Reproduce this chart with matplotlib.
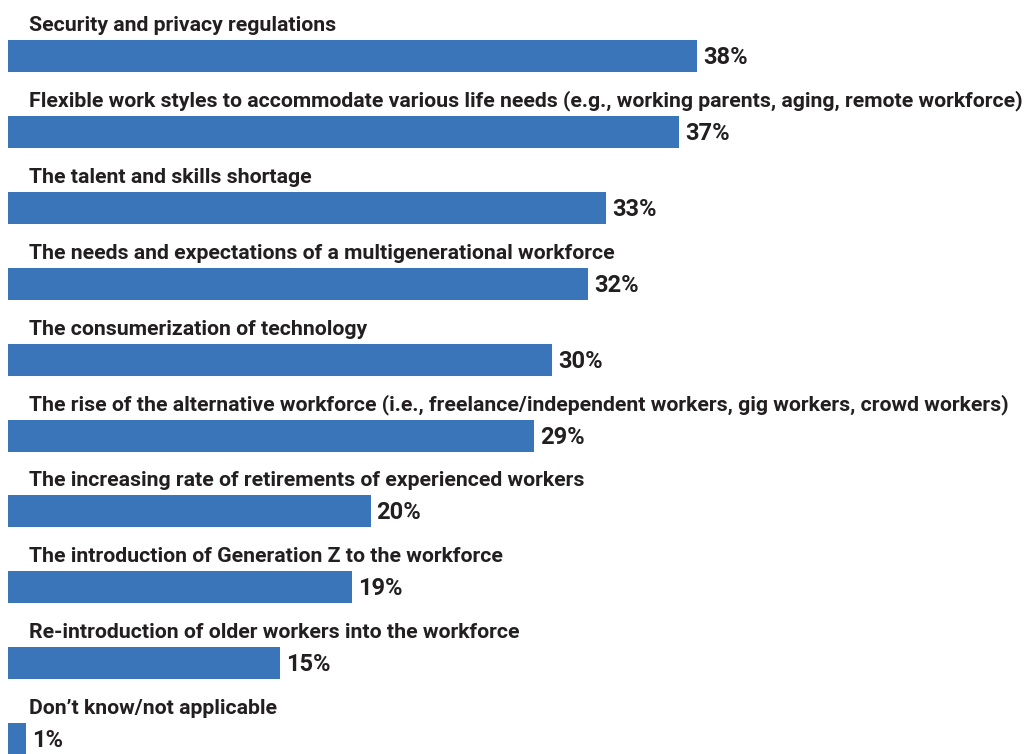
import matplotlib.pyplot as plt

plt.rcParams["font.family"] = ["Roboto", "DejaVu Sans"]

categories = [
    "Security and privacy regulations",
    "Flexible work styles to accommodate various life needs (e.g., working parents, aging, remote workforce)",
    "The talent and skills shortage",
    "The needs and expectations of a multigenerational workforce",
    "The consumerization of technology",
    "The rise of the alternative workforce (i.e., freelance/independent workers, gig workers, crowd workers)",
    "The increasing rate of retirements of experienced workers",
    "The introduction of Generation Z to the workforce",
    "Re-introduction of older workers into the workforce",
    "Don\u2019t know/not applicable",
]
values = [38, 37, 33, 32, 30, 29, 20, 19, 15, 1]

BAR_COLOR = "#3A75BA"
TEXT_COLOR = "#231F20"

W, H = 1026, 754
PX_PER_UNIT_X = 18.13
PX_PER_ROW = 75.9
FIRST_ROW_PX = 56
LEFT_PX = 8

fig = plt.figure(figsize=(W / 100, H / 100), dpi=100)
ax = fig.add_axes([LEFT_PX / W, 0, 1 - LEFT_PX / W, 1])

positions = list(range(len(values)))
barHeight = 32 / PX_PER_ROW
ax.barh(positions, values, height=barHeight, color=BAR_COLOR, align="center")

xmax = (W - LEFT_PX) / PX_PER_UNIT_X
ax.set_xlim(0, xmax)
ax.set_ylim((H - FIRST_ROW_PX) / PX_PER_ROW, -FIRST_ROW_PX / PX_PER_ROW)
ax.axis("off")

labelX = 21 / PX_PER_UNIT_X
gap = 9 / PX_PER_ROW
for pos, cat, val in zip(positions, categories, values):
    ax.text(labelX, pos - barHeight / 2 - gap, cat, fontsize=15.3,
            fontweight="bold", color=TEXT_COLOR, va="baseline", ha="left")
    ax.text(val + 6 / PX_PER_UNIT_X, pos + 0.02, f"{val}%", fontsize=17,
            fontweight="bold", color=TEXT_COLOR, va="center", ha="left")

fig.savefig("out.png", dpi=100)
